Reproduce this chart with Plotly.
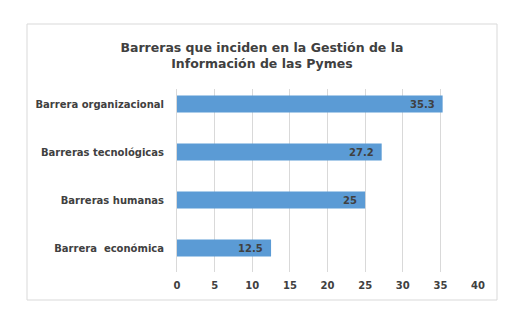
import plotly.graph_objects as go

categories = ["Barrera\u00a0 económica", "Barreras humanas", "Barreras tecnológicas", "Barrera organizacional"]
values = [12.5, 25, 27.2, 35.3]
x_ticks = [0, 5, 10, 15, 20, 25, 30, 35, 40]

TXT = "#404040"
FONT = "DejaVu Sans"

fig = go.Figure()
fig.add_trace(go.Bar(
    x=values, y=categories, orientation="h",
    marker=dict(color="#5B9BD5", line=dict(width=0)),
    width=0.35, hoverinfo="skip",
))
for v, c in zip(values, categories):
    fig.add_annotation(x=v, y=c, text=f"<b>{v:g}</b>", showarrow=False,
                       xanchor="right", xshift=-6, yanchor="middle",
                       font=dict(family=FONT, size=10, color=TXT))

fig.update_layout(
    width=526, height=319,
    margin=dict(l=177, r=48, t=89, b=47),
    paper_bgcolor="white", plot_bgcolor="white",
    showlegend=False,
    title=dict(text="<b>Barreras que inciden en la Gestión de la<br>Información de las Pymes</b>",
               x=0.498, xanchor="center", y=1 - 52 / 319, yanchor="middle",
               font=dict(family=FONT, size=12.5, color=TXT)),
    xaxis=dict(range=[0, 40], tickvals=x_ticks, showgrid=True, gridcolor="#d9d9d9", gridwidth=1,
               zeroline=False, showline=False, ticks="",
               tickfont=dict(family=FONT, size=10, color=TXT, weight="bold"), ticklabelstandoff=6),
    yaxis=dict(type="category", categoryorder="array", categoryarray=categories,
               range=[-0.5, 3.3125], showgrid=False, zeroline=False, showline=True,
               linecolor="#d9d9d9", linewidth=1, ticks="",
               tickfont=dict(family=FONT, size=10, color=TXT, weight="bold"), ticklabelstandoff=10),
    shapes=[dict(type="rect", xref="paper", yref="paper", layer="below",
                 x0=(27 - 177) / 301, x1=(497 - 177) / 301,
                 y0=(272 - 300) / 183, y1=(272 - 24) / 183,
                 line=dict(color="#d9d9d9", width=1), fillcolor="rgba(0,0,0,0)")],
)

fig.write_html("out.html", config={"displayModeBar": False},
               post_script="document.body.style.margin='0';")
